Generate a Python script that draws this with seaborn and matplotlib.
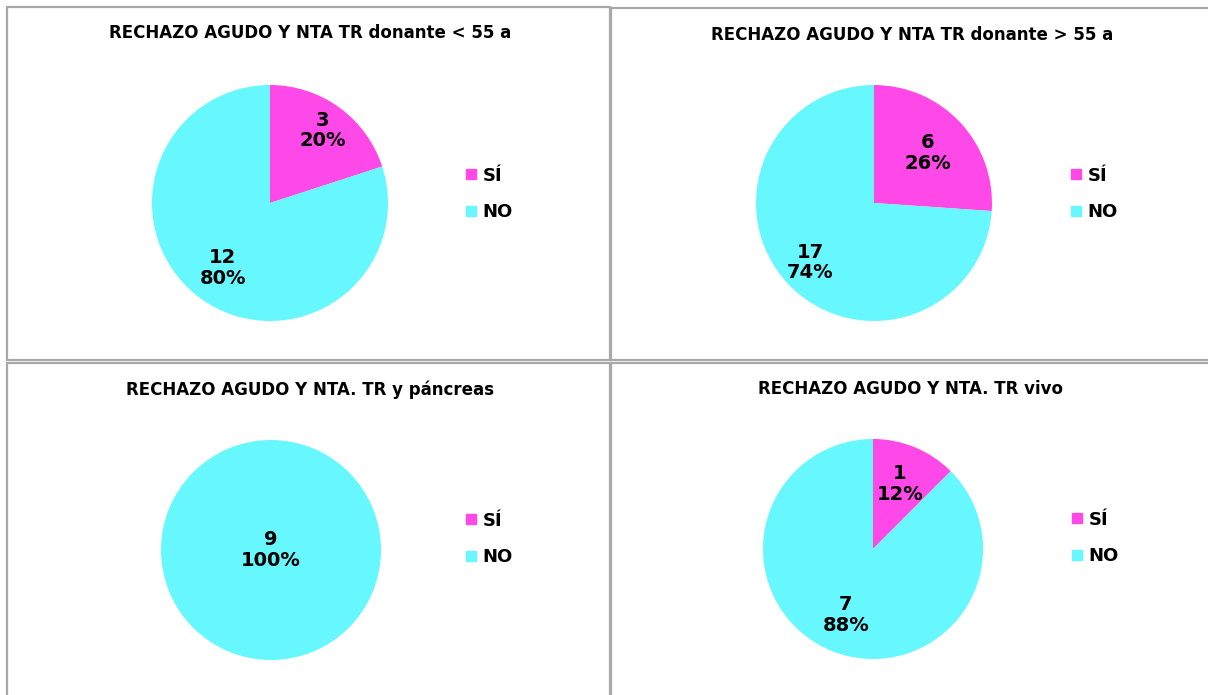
import numpy as np
import matplotlib
matplotlib.use("Agg")
import matplotlib.pyplot as plt
from matplotlib.patches import Rectangle
from matplotlib.lines import Line2D
import seaborn as sns

sns.set_theme(style="white")
plt.rcParams["font.family"] = ["DejaVu Sans"]

# Data
categories = ["SÍ", "NO"]
titles = [
    "RECHAZO AGUDO Y NTA TR donante < 55 a",
    "RECHAZO AGUDO Y NTA TR donante > 55 a",
    "RECHAZO AGUDO Y NTA. TR y páncreas",
    "RECHAZO AGUDO Y NTA. TR vivo",
]
donor_under55 = [3, 12]
donor_over55 = [6, 17]
kidney_pancreas = [0, 9]
living_donor = [1, 7]
series = [donor_under55, donor_over55, kidney_pancreas, living_donor]

colors = sns.color_palette(["#FF48E8", "#66F7FF"])

W, H = 1208, 695
fig = plt.figure(figsize=(W / 100, H / 100), dpi=100)
fig.patch.set_facecolor("white")

# panel frames (pixel boxes: x0, y0, x1, y1)
frames = [(7, 7, 610, 360), (611, 8, 1215, 360), (7, 363, 610, 702), (611, 363, 1215, 702)]
for x0, y0, x1, y1 in frames:
    fig.add_artist(Rectangle((x0 / W, 1 - y1 / H), (x1 - x0) / W, (y1 - y0) / H,
                             transform=fig.transFigure, fill=False,
                             edgecolor="#a8a8a8", lw=1.6))

# pie centres / radii, title positions and legend anchors in pixels
pies = [(270, 203, 118), (874, 203, 118), (271, 550, 110), (873, 549, 110)]
title_pos = [(310, 33), (912, 35), (310, 390), (910, 389)]
legend_pos = [(457, 194), (1062, 194), (457, 539), (1063, 538)]
label_dist = [(0.76, 0.68), (0.62, 0.74), (0.0, 0.0), (0.64, 0.65)]

for vals, ttl, (cx, cy, r), (tx, ty), (lx, ly), dists in zip(
        series, titles, pies, title_pos, legend_pos, label_dist):
    ax = fig.add_axes([(cx - r) / W, 1 - (cy + r) / H, 2 * r / W, 2 * r / H])
    ax.pie(vals, colors=colors, startangle=90, counterclock=False, radius=1,
           wedgeprops=dict(linewidth=0))
    ax.set_xlim(-1, 1)
    ax.set_ylim(-1, 1)
    ax.set_aspect("auto")
    ax.axis("off")

    total = sum(vals)
    nonzero = [v for v in vals if v > 0]
    start = 90.0
    for v, d in zip(vals, dists):
        if v == 0:
            continue
        sweep = 360.0 * v / total
        mid = np.deg2rad(start - sweep / 2)
        start -= sweep
        if len(nonzero) == 1:
            d = 0.0
        pct = round(100.0 * v / total)
        ax.text(d * np.cos(mid), d * np.sin(mid), f"{v}\n{pct}%",
                ha="center", va="center", fontsize=14, fontweight="bold",
                color="black", linespacing=1.1)

    fig.text(tx / W, 1 - ty / H, ttl, ha="center", va="center",
             fontsize=12, fontweight="bold", color="black")

    handles = [Line2D([], [], marker="s", linestyle="none", markersize=7,
                      markerfacecolor=c, markeredgecolor=c) for c in colors]
    fig.legend(handles, categories, loc="center left",
               bbox_to_anchor=(lx / W, 1 - ly / H), frameon=False,
               prop=dict(size=13, weight="bold"), handlelength=0.6,
               handletextpad=0.3, labelspacing=1.05, borderpad=0,
               labelcolor="black")

fig.savefig("out.png", dpi=100, facecolor="white")
